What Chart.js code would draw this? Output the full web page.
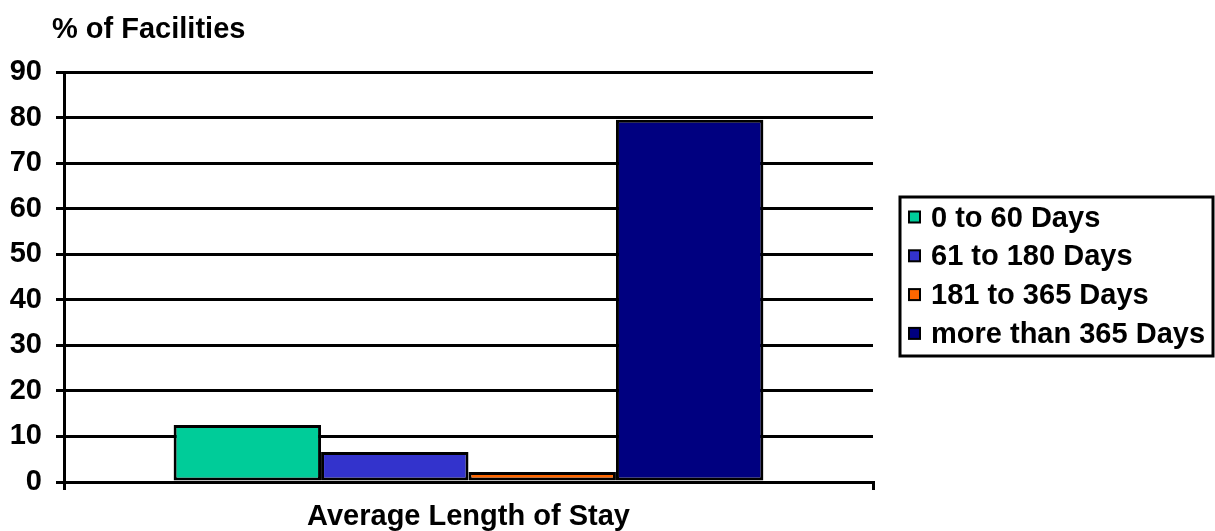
<!DOCTYPE html>
<html>
<head>
<meta charset="utf-8">
<script src="https://cdn.jsdelivr.net/npm/chart.js@4.4.1/dist/chart.umd.min.js"></script>
<style>
  html, body { margin: 0; padding: 0; background: #fff; }
  #wrap { width: 1215px; height: 531px; position: relative; }
</style>
</head>
<body>
<div id="wrap"><canvas id="c" width="1215" height="531"></canvas></div>
<script>
// Share of facilities by average length of stay
const categories = ['Average Length of Stay'];
const seriesNames = ['0 to 60 Days', '61 to 180 Days', '181 to 365 Days', 'more than 365 Days'];
const seriesValues = [12.5, 6.6, 2.2, 79.5];
const seriesColors = ['#00CC99', '#3333CC', '#FF6600', '#000080'];
const yTicks = [0, 10, 20, 30, 40, 50, 60, 70, 80, 90];

const FONT = '"Liberation Sans", Arial, sans-serif';
const FS = 29;

const datasets = seriesNames.map((name, i) => ({
  label: name,
  data: [seriesValues[i]],
  backgroundColor: seriesColors[i],
  borderColor: '#000',
  borderWidth: 3,
  borderSkipped: false,
  categoryPercentage: 0.729,
  barPercentage: 1.0
}));

// Axis caption above the value axis
const yCaption = {
  id: 'yCaption',
  afterDraw(chart) {
    const ctx = chart.ctx;
    ctx.save();
    ctx.font = 'bold ' + FS + 'px ' + FONT;
    ctx.fillStyle = '#000';
    ctx.textAlign = 'left';
    ctx.textBaseline = 'alphabetic';
    ctx.fillText('% of Facilities', 52, 38);
    ctx.restore();
  }
};

// Boxed legend on the right
const boxedLegend = {
  id: 'boxedLegend',
  afterDraw(chart) {
    const ctx = chart.ctx;
    const box = { x: 900, y: 197, w: 313, h: 159 };
    ctx.save();
    ctx.lineWidth = 3;
    ctx.strokeStyle = '#000';
    ctx.strokeRect(box.x, box.y, box.w, box.h);
    ctx.font = 'bold ' + FS + 'px ' + FONT;
    ctx.textBaseline = 'middle';
    ctx.textAlign = 'left';
    chart.data.datasets.forEach((ds, i) => {
      const cy = 217.5 + i * 38.8;
      ctx.fillStyle = ds.backgroundColor;
      ctx.fillRect(909, cy - 6, 11, 11);
      ctx.lineWidth = 2;
      ctx.strokeStyle = '#000';
      ctx.strokeRect(909, cy - 6, 11, 11);
      ctx.fillStyle = '#000';
      ctx.fillText(ds.label, 931, cy + 1);
    });
    ctx.restore();
  }
};

new Chart(document.getElementById('c'), {
  type: 'bar',
  data: { labels: categories, datasets },
  options: {
    responsive: false,
    animation: false,
    devicePixelRatio: 1,
    layout: { padding: { top: 72, right: 342, bottom: 0, left: 0 } },
    plugins: {
      legend: { display: false },
      tooltip: { enabled: false },
      title: { display: false }
    },
    scales: {
      x: {
        offset: true,
        grid: {
          offset: true,
          drawOnChartArea: false,
          color: '#000',
          lineWidth: 3,
          tickLength: 8,
          drawTicks: true
        },
        border: { display: true, color: '#000', width: 3 },
        ticks: { display: false },
        title: {
          display: true,
          text: categories[0],
          color: '#000',
          font: { family: FONT, size: FS, weight: 'bold', lineHeight: 1 },
          padding: { top: 0, bottom: 0 }
        },
        afterFit(scale) { scale.height = 49; }
      },
      y: {
        min: 0,
        max: 90,
        afterBuildTicks(scale) { scale.ticks = yTicks.map(v => ({ value: v })); },
        grid: { color: '#000', lineWidth: 3, tickLength: 8 },
        border: { display: true, color: '#000', width: 3 },
        ticks: {
          color: '#000',
          padding: 14,
          font: { family: FONT, size: FS, weight: 'bold' }
        },
        afterFit(scale) { scale.width = 64; }
      }
    }
  },
  plugins: [yCaption, boxedLegend]
});
</script>
</body>
</html>
